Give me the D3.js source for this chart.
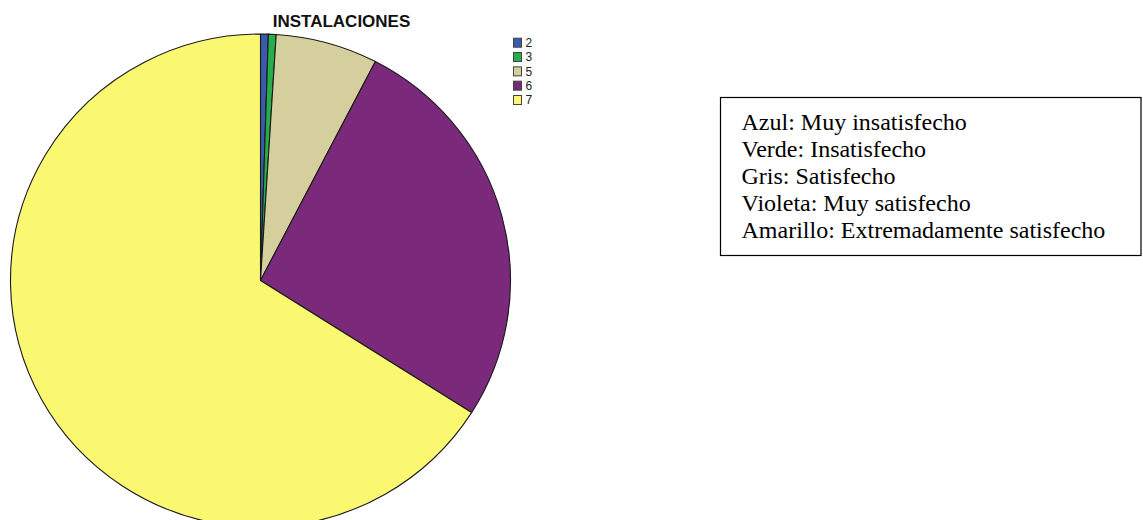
<!DOCTYPE html>
<html>
<head>
<meta charset="utf-8">
<script src="https://cdn.jsdelivr.net/npm/d3@7"></script>
<style>
  html, body { margin: 0; padding: 0; background: #fff; }
  svg { display: block; }
</style>
</head>
<body>
<svg id="chart" width="1143" height="520"></svg>
<script>
// Satisfaction with the facilities (percent of respondents per rating)
const categories = ["2", "3", "5", "6", "7"];
const values = [0.5, 0.5, 6.6, 26.4, 66.0];
const colors = ["#3A5AAE", "#25AE4A", "#D4CF9C", "#7B297B", "#FAF771"];
const title = "INSTALACIONES";
const noteLines = [
  "Azul: Muy insatisfecho",
  "Verde: Insatisfecho",
  "Gris: Satisfecho",
  "Violeta: Muy satisfecho",
  "Amarillo: Extremadamente satisfecho"
];

const svg = d3.select("#chart");

const color = d3.scaleOrdinal().domain(categories).range(colors);
const data = categories.map((c, i) => ({ cat: c, value: values[i] }));

// Pie, drawn clockwise from 12 o'clock in category order
const pie = d3.pie().sort(null).value(d => d.value);
const rx = 250, ry = 246.5;
const arc = d3.arc().innerRadius(0).outerRadius(rx);

const g = svg.append("g")
  .attr("transform", `translate(260.5,280.5) scale(1,${ry / rx})`);

g.selectAll("path.slice")
  .data(pie(data))
  .join("path")
  .attr("class", "slice")
  .attr("d", arc)
  .attr("fill", d => color(d.data.cat))
  .attr("stroke", "#1a1a1a")
  .attr("stroke-width", 1.1)
  .attr("stroke-linejoin", "round")
  .attr("vector-effect", "non-scaling-stroke");

// Title
svg.append("text")
  .attr("x", 341.5)
  .attr("y", 27.3)
  .attr("text-anchor", "middle")
  .attr("font-family", "'Liberation Sans', Arial, sans-serif")
  .attr("font-weight", "bold")
  .attr("font-size", 17)
  .attr("fill", "#111")
  .text(title);

// Category legend
const legendY = d3.scalePoint().domain(categories).range([42.7, 100]);
const legend = svg.append("g");
const item = legend.selectAll("g")
  .data(categories)
  .join("g")
  .attr("transform", d => `translate(513,${legendY(d)})`);
item.append("rect")
  .attr("x", 0.5)
  .attr("y", -4.5)
  .attr("width", 8)
  .attr("height", 9)
  .attr("fill", d => color(d))
  .attr("stroke", "#444")
  .attr("stroke-width", 1);
item.append("text")
  .attr("x", 12.5)
  .attr("y", 4.3)
  .attr("font-family", "'Liberation Sans', Arial, sans-serif")
  .attr("font-size", 12)
  .attr("fill", "#222")
  .text(d => d);

// Colour key box
svg.append("rect")
  .attr("x", 720.5)
  .attr("y", 97.5)
  .attr("width", 420.5)
  .attr("height", 158)
  .attr("fill", "#fff")
  .attr("stroke", "#000")
  .attr("stroke-width", 1.2);

svg.append("g")
  .selectAll("text")
  .data(noteLines)
  .join("text")
  .attr("x", 741.5)
  .attr("y", (d, i) => 130 + i * 27)
  .attr("font-family", "'Liberation Serif', 'Times New Roman', serif")
  .attr("font-size", 24)
  .attr("fill", "#000")
  .text(d => d);
</script>
</body>
</html>
